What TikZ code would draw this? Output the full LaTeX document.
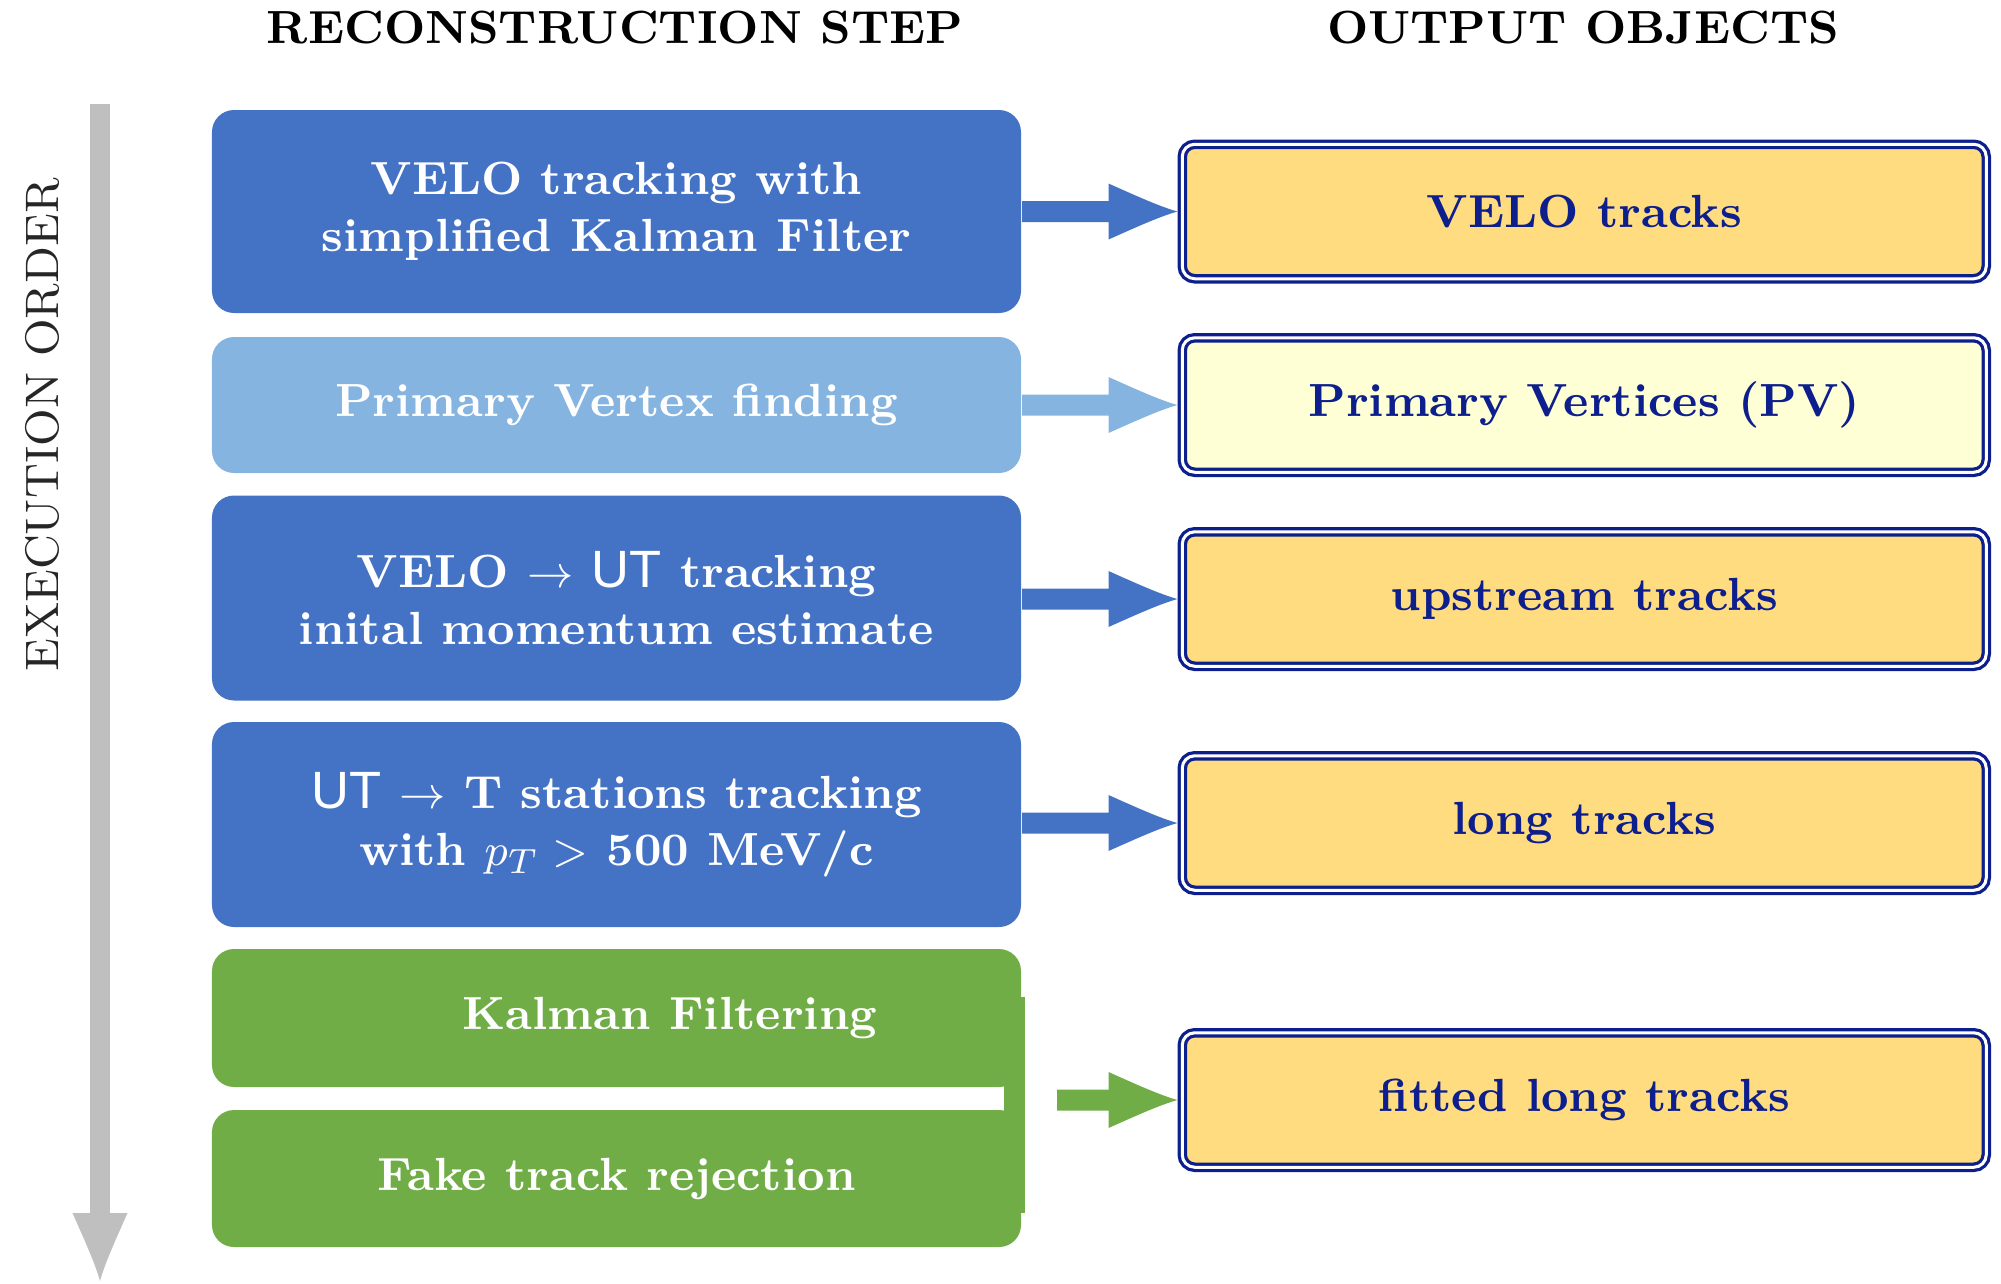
\documentclass[tikz,border=0pt]{standalone}
\usepackage{fontspec}
\usetikzlibrary{calc}
\newfontfamily\utfont{Liberation Sans}
\definecolor{cblue}{HTML}{4472C4}
\definecolor{clblue}{HTML}{86B4E0}
\definecolor{cgreen}{HTML}{70AD47}
\definecolor{cgold}{HTML}{FFDC80}
\definecolor{cpale}{HTML}{FFFFD6}
\definecolor{cnavy}{HTML}{0D1F8C}
\definecolor{cgray}{HTML}{BFBFBF}
\newcommand\stepfont{\fontsize{9.3}{11.5}\selectfont\bfseries}
\newcommand\UTtext{{\utfont\mdseries\fontsize{10.5}{11.5}\selectfont UT}}
\newcommand\blockarrow[3]{%
  \fill[#3] ($(#1)+(0,-10.5)$) -- ($(#2.west)+(-69,-10.5)$) -- ($(#2.west)+(-69,-28)$)
    .. controls ($(#2.west)+(-42,-16)$) and ($(#2.west)+(-18,-5)$) .. (#2.west)
    .. controls ($(#2.west)+(-18,5)$) and ($(#2.west)+(-42,16)$) .. ($(#2.west)+(-69,28)$)
    -- ($(#2.west)+(-69,10.5)$) -- ($(#1)+(0,10.5)$) -- cycle;}
\begin{document}
\begin{tikzpicture}[x=0.2pt,y=-0.2pt,
  stepbox/.style={fill=cblue, rounded corners=4.4pt, minimum width=161.8pt, inner sep=0pt,
    text=white, align=center, font=\stepfont},
  outbox/.style={draw=cnavy, double=white, line width=0.65pt, double distance=0.6pt,
    fill=cgold, rounded corners=2.5pt, minimum width=160.8pt, minimum height=26.9pt,
    inner sep=0pt, outer sep=0.95pt, text=cnavy, font=\stepfont},
  header/.style={font=\stepfont, text=black, inner sep=0pt}]
\useasboundingbox (0,0) rectangle (2001,1283);

% headers
\node[header] (h1) at (615,28) {RECONSTRUCTION STEP};
\node[header] (h2) at (1583,28) {OUTPUT OBJECTS};

% execution order arrow
\coordinate (ordtop) at (100,104);
\coordinate (ordbot) at (100,1281);
\fill[cgray] ($(ordtop)+(-10,0)$) rectangle ($(ordbot)+(10,-68)$);
\fill[cgray] ($(ordbot)+(-27.5,-68)$) .. controls ($(ordbot)+(-16,-42)$) and ($(ordbot)+(-5,-18)$) .. (ordbot)
  .. controls ($(ordbot)+(5,-18)$) and ($(ordbot)+(16,-42)$) .. ($(ordbot)+(27.5,-68)$) -- cycle;
\node[rotate=90, inner sep=0pt, text=black!85, font=\fontsize{9.4}{11}\selectfont] (ord) at (42,425) {EXECUTION ORDER};

% reconstruction steps
\node[stepbox, minimum height=40.6pt] (b1) at (616.5,211.5) {VELO tracking with\\simplified Kalman Filter};
\node[stepbox, minimum height=27.2pt, fill=clblue] (b2) at (616.5,405) {Primary Vertex finding};
\node[stepbox, minimum height=41pt] (b3) at (616.5,598) {VELO $\rightarrow$ \UTtext{} tracking\\inital momentum estimate};
\node[stepbox, minimum height=41pt] (b4) at (616.5,824.5) {\UTtext{} $\rightarrow$ T stations tracking\\with $p_T >$ 500 MeV/c};
\node[stepbox, minimum height=27.6pt, fill=cgreen] (b5) at (616.5,1018) {};
\node[stepbox, fill=none] (t5) at (670,1018) {Kalman Filtering};
\node[stepbox, minimum height=27.4pt, fill=cgreen] (b6) at (616.5,1178.5) {Fake track rejection};
\node[fill=cgreen, inner sep=0pt, minimum width=4.2pt, minimum height=43.2pt] (gstrip) at (1014.5,1105) {};

% output objects
\node[outbox] (o1) at (1584.25,211.5) {VELO tracks};
\node[outbox, fill=cpale] (o2) at (1584.25,405) {Primary Vertices (PV)};
\node[outbox] (o3) at (1584.25,599) {upstream tracks};
\node[outbox] (o4) at (1584.25,823) {long tracks};
\node[outbox] (o5) at (1584.25,1100) {fitted long tracks};

% connectors
\blockarrow{b1.east |- o1.west}{o1}{cblue}
\blockarrow{b2.east |- o2.west}{o2}{clblue}
\blockarrow{b3.east |- o3.west}{o3}{cblue}
\blockarrow{b4.east |- o4.west}{o4}{cblue}
\coordinate (gstart) at ($(gstrip.east |- o5.west)+(31,0)$);
\blockarrow{gstart}{o5}{cgreen}
\end{tikzpicture}
\end{document}
